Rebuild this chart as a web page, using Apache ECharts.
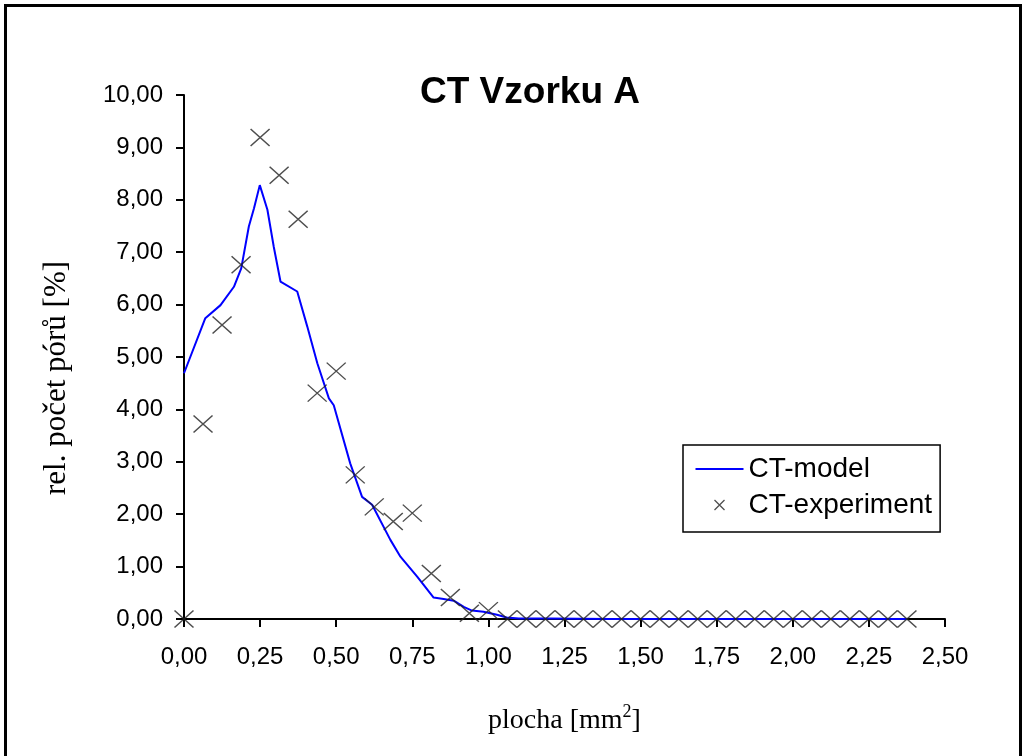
<!DOCTYPE html>
<html>
<head>
<meta charset="utf-8">
<script src="https://cdn.jsdelivr.net/npm/echarts@6/dist/echarts.min.js"></script>
<style>
html,body{margin:0;padding:0;background:#fff;}
#chart{width:1026px;height:756px;}
</style>
</head>
<body>
<div id="chart"></div>
<script>
// ---- data ----
var titleText = 'CT Vzorku A';
var xAxisName = 'plocha [mm{sup|2}]';
var yAxisName = 'rel. počet pórů [%]';
var seriesNames = ['CT-model', 'CT-experiment'];

// CT-model curve (x in mm^2, y in %)
var modelX = [0, 0.07, 0.12, 0.164, 0.188, 0.213, 0.23, 0.249, 0.274, 0.295, 0.317, 0.372, 0.405, 0.438, 0.476, 0.492, 0.546, 0.585, 0.618, 0.678, 0.711, 0.766, 0.82, 0.853, 0.886, 0.919, 0.946, 0.984, 1.028, 1.06, 1.1, 1.2, 1.4, 1.6, 1.8, 2.0, 2.2, 2.375];
var modelY = [4.69, 5.74, 5.99, 6.34, 6.69, 7.49, 7.84, 8.28, 7.81, 7.10, 6.44, 6.25, 5.58, 4.88, 4.21, 4.08, 2.97, 2.33, 2.18, 1.51, 1.19, 0.81, 0.41, 0.38, 0.35, 0.23, 0.16, 0.14, 0.08, 0.03, 0.01, 0.01, 0, 0, 0, 0, 0, 0];

// CT-experiment points (x step 0.0625 mm^2)
var expX = [0, 0.0625, 0.125, 0.1875, 0.25, 0.3125, 0.375, 0.4375, 0.5, 0.5625, 0.625, 0.6875, 0.75, 0.8125, 0.875, 0.9375, 1.0, 1.0625, 1.125, 1.1875, 1.25, 1.3125, 1.375, 1.4375, 1.5, 1.5625, 1.625, 1.6875, 1.75, 1.8125, 1.875, 1.9375, 2.0, 2.0625, 2.125, 2.1875, 2.25, 2.3125, 2.375];
var expY = [0, 3.72, 5.61, 6.76, 9.19, 8.47, 7.63, 4.31, 4.73, 2.75, 2.14, 1.86, 2.02, 0.87, 0.41, 0.11, 0.16, 0, 0, 0, 0, 0, 0, 0, 0, 0, 0, 0, 0, 0, 0, 0, 0, 0, 0, 0, 0, 0, 0];

// ---- chart ----
function pairs(xs, ys){ return xs.map(function(x, i){ return [x, ys[i]]; }); }
function fmt(v){ return v.toFixed(2).replace('.', ','); }

var crossPath = 'path://M0,0 L10,10 M10,0 L0,10';
var legendCross = 'path://M0,0 M19,4 L29,14 M29,4 L19,14 M48,18';

var chart = echarts.init(document.getElementById('chart'), null, {renderer: 'canvas'});
chart.setOption({
  backgroundColor: '#fff',
  animation: false,
  graphic: [{
    type: 'rect',
    shape: {x: 5.5, y: 5.5, width: 1015, height: 760},
    style: {fill: 'none', stroke: '#000', lineWidth: 3},
    silent: true
  }],
  title: {
    text: titleText,
    left: 525,
    top: 69,
    textAlign: 'center',
    textStyle: {fontFamily: 'Liberation Sans, Arial, sans-serif', fontSize: 37, fontWeight: 'bold', color: '#000'}
  },
  grid: {left: 184, right: 81, top: 95, bottom: 137, containLabel: false},
  legend: {
    orient: 'vertical',
    left: 683,
    top: 445,
    padding: [10, 8, 13, 10],
    itemWidth: 48,
    itemHeight: 18,
    itemGap: 8,
    borderColor: '#000',
    borderWidth: 1.5,
    backgroundColor: '#fff',
    textStyle: {fontFamily: 'Liberation Sans, Arial, sans-serif', fontSize: 28, color: '#000', lineHeight: 28},
    data: [
      {name: seriesNames[0], icon: 'path://M0,9 L48,9 M0,0 M48,18', itemStyle: {color: 'none', borderColor: '#0000ff', borderWidth: 2}},
      {name: seriesNames[1], icon: legendCross, itemStyle: {color: 'none', borderColor: '#222', borderWidth: 1.3}}
    ]
  },
  xAxis: {
    type: 'value',
    min: 0, max: 2.5, interval: 0.25,
    name: xAxisName,
    nameLocation: 'middle',
    nameGap: 84,
    nameTextStyle: {
      fontFamily: 'Liberation Serif, Times New Roman, serif', fontSize: 28, color: '#000', lineHeight: 36,
      rich: {sup: {fontFamily: 'Liberation Serif, Times New Roman, serif', fontSize: 18, verticalAlign: 'top', lineHeight: 36, padding: [0, 0, 16, 0]}}
    },
    axisLine: {show: true, onZero: false, lineStyle: {color: '#000', width: 2}},
    axisTick: {show: true, inside: false, length: 8, lineStyle: {color: '#000', width: 2}},
    axisLabel: {formatter: fmt, margin: 26, fontFamily: 'Liberation Sans, Arial, sans-serif', fontSize: 24, color: '#000'},
    splitLine: {show: false}
  },
  yAxis: {
    type: 'value',
    min: 0, max: 10, interval: 1,
    name: yAxisName,
    nameLocation: 'middle',
    nameRotate: 90,
    nameGap: 112,
    nameTextStyle: {fontFamily: 'Liberation Serif, Times New Roman, serif', fontSize: 31, color: '#000', padding: [0, 42, 0, 0]},
    axisLine: {show: true, onZero: false, lineStyle: {color: '#000', width: 2}},
    axisTick: {show: true, inside: false, length: 8, lineStyle: {color: '#000', width: 2}},
    axisLabel: {formatter: fmt, margin: 21, fontFamily: 'Liberation Sans, Arial, sans-serif', fontSize: 24, color: '#000'},
    splitLine: {show: false}
  },
  series: [
    {
      name: seriesNames[0],
      type: 'line',
      data: pairs(modelX, modelY),
      showSymbol: false,
      symbol: 'none',
      smooth: false,
      lineStyle: {color: '#0000ff', width: 2},
      itemStyle: {color: '#0000ff'},
      z: 2
    },
    {
      name: seriesNames[1],
      type: 'scatter',
      data: pairs(expX, expY),
      symbol: crossPath,
      symbolSize: [19, 17],
      itemStyle: {color: 'none', borderColor: '#222', borderWidth: 1.4},
      z: 3
    }
  ]
});
</script>
</body>
</html>
